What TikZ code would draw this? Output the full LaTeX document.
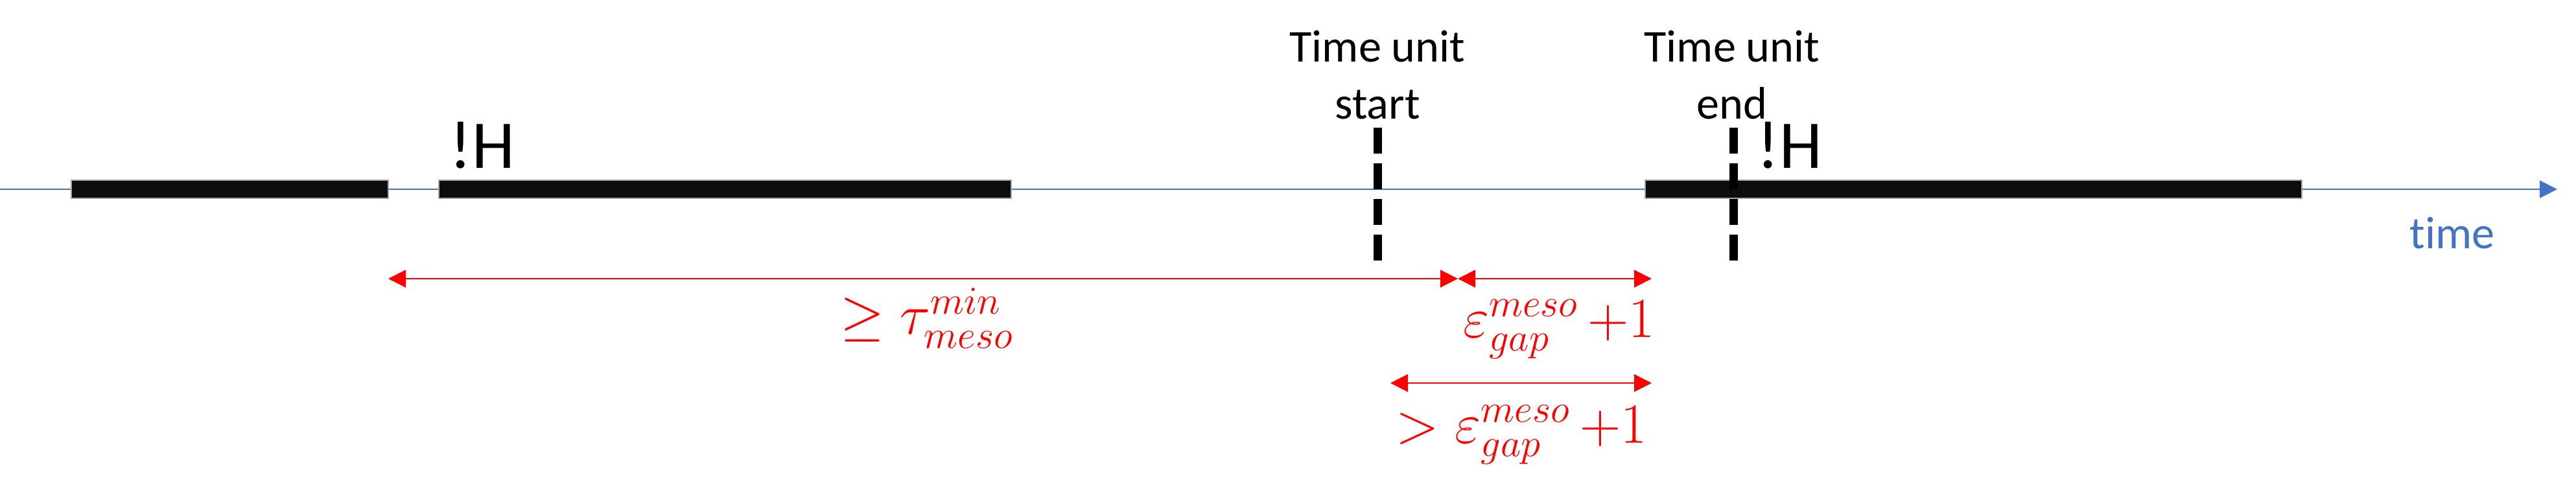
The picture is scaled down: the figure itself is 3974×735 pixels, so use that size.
\documentclass[tikz,border=0pt]{standalone}
\usepackage{amssymb, amsmath}
\usepackage{fontspec}
\setmainfont{Carlito}[Ligatures=NoCommon]
\usepackage{color}
\usepackage{tikz}
\usetikzlibrary{arrows.meta}
\definecolor{axisblue}{RGB}{68, 114, 196}
\definecolor{barblack}{RGB}{13, 13, 13}
\definecolor{spanred}{RGB}{255, 0, 0}

\begin{document}
\begin{tikzpicture}[x=0.01cm, y=-0.01cm,
    timeaxis/.style={axisblue, line width=0.6pt, -{Triangle[length=0.27cm, width=0.27cm]}},
    hbar/.style={fill=barblack, draw=gray!70, line width=0.4pt},
    tuline/.style={black, line width=0.13cm, dash pattern=on 0.4cm off 0.15cm},
    span/.style={spanred, line width=0.6pt, {Triangle[length=0.27cm, width=0.27cm]}-{Triangle[length=0.27cm, width=0.27cm]}},
    tulabel/.style={align=center, inner sep=0, font=\fontsize{20}{25}\selectfont},
    spanlabel/.style={text=spanred, inner sep=0, font=\fontsize{23}{28}\selectfont}]
  \useasboundingbox (0, 0) rectangle (3974, 735);

  % time axis
  \coordinate (t0) at (0, 292);
  \coordinate (tEnd) at (3945, 292);
  \draw[timeaxis] (t0) -- (tEnd);
  \node[inner sep=0, anchor=base, text=axisblue, font=\fontsize{20}{24}\selectfont] (timeLbl) at (3783, 383) {time};

  % intervals
  \foreach \xa/\xb in {110/599, 677/1560, 2538/3551} {
    \draw[hbar] (\xa, 278) rectangle (\xb, 306);
  }
  \node[inner sep=0, font=\fontsize{30}{36}\selectfont] (notHa) at (744, 224) {!H};
  \node[inner sep=0, font=\fontsize{30}{36}\selectfont] (notHb) at (2761, 224) {!H};

  % time unit
  \foreach \x in {2125, 2674} {
    \draw[tuline] (\x, 197) -- (\x, 402);
  }
  \node[tulabel, anchor=north] (tuStart) at (2125, 46) {Time unit\\start};
  \node[tulabel, anchor=north] (tuEnd) at (2672, 46) {Time unit\\end};

  % spans
  \coordinate (gapL) at (599, 430);
  \coordinate (gapM) at (2249, 430);
  \coordinate (gapR) at (2548, 430);
  \coordinate (lowL) at (2145, 591);
  \coordinate (lowR) at (2548, 591);
  \draw[span] (gapL) -- (gapM);
  \draw[span] (gapM) -- (gapR);
  \draw[span] (lowL) -- (lowR);

  \node[spanlabel] (minLbl) at (1430, 491) {$\geq \tau_{meso}^{min}$};
  \node[spanlabel] (epsLbl) at (2405, 508) {$\varepsilon_{gap}^{meso}\,{+}1$};
  \node[spanlabel] (gtLbl) at (2347, 671) {$> \varepsilon_{gap}^{meso}\,{+}1$};
\end{tikzpicture}
\end{document}
